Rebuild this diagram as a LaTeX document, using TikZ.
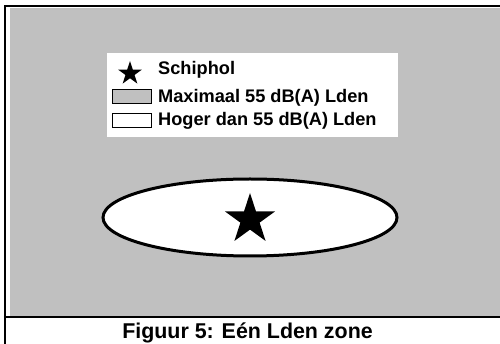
\documentclass[tikz,border=0pt]{standalone}
\usepackage{fontspec}
\setmainfont{Liberation Sans}
\usepackage{tikz}
\usetikzlibrary{shapes.geometric}
\definecolor{zonegray}{HTML}{C0C0C0}

\begin{document}
\begin{tikzpicture}[x=1pt,y=-1pt,
  legendtxt/.style={anchor=base west,inner sep=0pt,font=\fontsize{18.2}{20}\selectfont\bfseries},
  swatch/.style={draw=black,line width=0.8pt},
  airport/.style={star,star points=5,star point ratio=2.62,fill=black,inner sep=0pt}]
\useasboundingbox (0,0) rectangle (500,344);
\fill[white] (0,0) rectangle (500,344);
% gray area and frame
\fill[zonegray] (9.5,8) rectangle (500,315.5);
\draw[line width=2.5pt] (5,344) -- (5,5.8) -- (500,5.8);
\draw[line width=2.5pt] (3.75,317) -- (500,317);
% legend
\fill[white] (107,53) rectangle (398,137);
\node[airport,minimum size=25pt] (legstar) at (130,73.5) {};
\node[legendtxt] (legschiphol) at (158,75) {Schiphol};
\draw[swatch,fill=zonegray] (112,89) rectangle (151,103);
\node[legendtxt] (legmax) at (158,103) {Maximaal 55 dB(A) Lden};
\draw[swatch,fill=white] (112,113) rectangle (151,127);
\node[legendtxt] (leghoger) at (158,126) {Hoger dan 55 dB(A) Lden};
% zone
\node[ellipse,draw=black,fill=white,line width=3pt,minimum width=294pt,minimum height=77pt,inner sep=0pt] (zone) at (250,217.5) {};
\node[airport,minimum size=53pt] (schiphol) at (250,219.5) {};
% caption
\node[anchor=base,inner sep=0pt,font=\fontsize{21.4}{24}\selectfont\bfseries] (caption) at (247.5,338) {Figuur 5: Eén Lden zone};
\end{tikzpicture}
\end{document}
